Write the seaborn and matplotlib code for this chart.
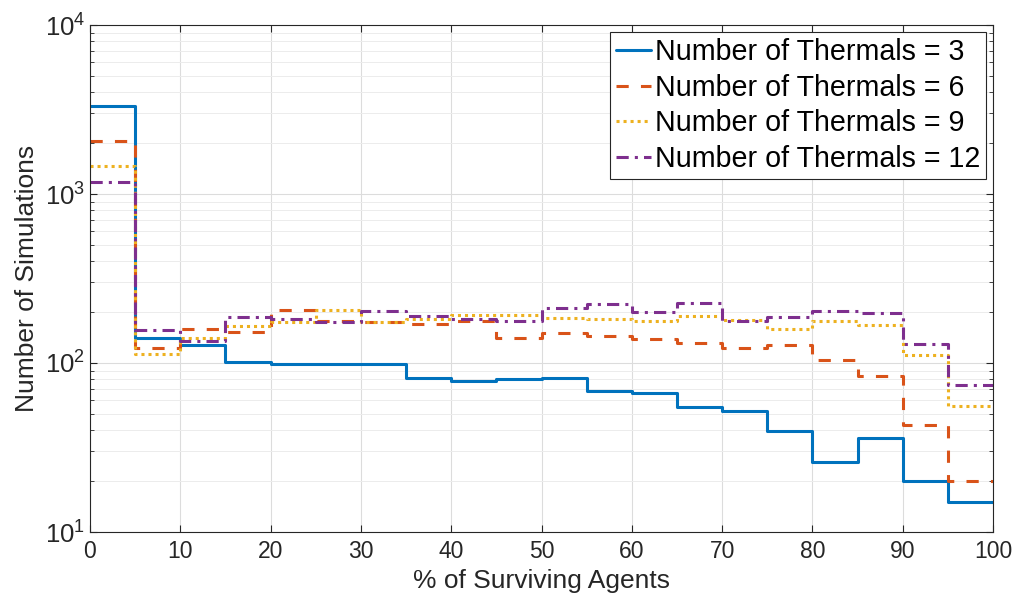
import numpy as np
import pandas as pd
import matplotlib
matplotlib.use("Agg")
import matplotlib.pyplot as plt
import seaborn as sns
from matplotlib.ticker import LogLocator, NullFormatter, MultipleLocator

# ---- data ----
bin_edges = list(range(0, 105, 5))  # % of surviving agents, 5% bins
labels = ["Number of Thermals = 3", "Number of Thermals = 6",
          "Number of Thermals = 9", "Number of Thermals = 12"]
counts_3 = [3300, 140, 127, 101, 98, 99, 99, 82, 78, 80, 82, 68, 66, 55, 52, 39.5, 26, 36, 20, 15]
counts_6 = [2050, 123, 159, 152, 207, 178, 176, 169, 178, 140, 151, 145, 138, 131, 123, 127, 104, 84, 43, 20]
counts_9 = [1470, 113, 140, 165, 175, 207, 175, 181, 193, 193, 185, 183, 177, 189, 180, 159, 178, 167, 112, 56]
counts_12 = [1180, 156, 135, 187, 183, 175, 203, 191, 183, 178, 211, 223, 200, 225, 178, 187, 203, 197, 130, 74]
series = [counts_3, counts_6, counts_9, counts_12]

colors = ["#0072BD", "#D95319", "#EDB120", "#7E2F8E"]
styles = ["-", (0, (4, 4)), (0, (1, 1.3)), (0, (4, 2, 1, 2))]

sns.set_style("ticks")
plt.rcParams['font.family'] = ['Liberation Sans', 'DejaVu Sans']
plt.rcParams['mathtext.fontset'] = 'custom'
plt.rcParams['mathtext.rm'] = 'Liberation Sans'

fig = plt.figure(figsize=(10.27, 6.04), dpi=100)
ax = fig.add_axes([90 / 1027, (604 - 532) / 604, (993 - 90) / 1027, (532 - 25) / 604])

edges = [float(e) for e in bin_edges]
centers = [(a + b) / 2 for a, b in zip(edges[:-1], edges[1:])]
for lab, cnt, c, ls in zip(labels, series, colors, styles):
    df = pd.DataFrame({"x": centers, "w": cnt})
    sns.histplot(data=df, x="x", weights="w", bins=edges, element="step", fill=False,
                 color=c, linestyle=ls, linewidth=2.2, label=lab, ax=ax)

ax.set_yscale("log")
ax.set_xlim(0, 100)
ax.set_ylim(10, 1e4)
ax.xaxis.set_major_locator(MultipleLocator(10))
ax.yaxis.set_major_locator(LogLocator(base=10, numticks=10))
ax.yaxis.set_minor_locator(LogLocator(base=10, subs=np.arange(2, 10), numticks=20))
ax.yaxis.set_minor_formatter(NullFormatter())

ax.grid(True, which="major", color="#dcdcdc", linewidth=0.8)
ax.grid(True, which="minor", axis="y", color="#ececec", linewidth=0.7)
ax.set_axisbelow(True)

for s in ax.spines.values():
    s.set_visible(True)
    s.set_color("#262626")
    s.set_linewidth(0.8)
ax.tick_params(which="both", direction="in", top=True, right=True, colors="#262626",
               labelsize=16.5, labelcolor="#262626")
ax.tick_params(axis="y", labelsize=18.5)
ax.tick_params(which="major", length=5)
ax.tick_params(which="minor", length=3)
ax.tick_params(axis="x", pad=6)

ax.set_xlabel("% of Surviving Agents", fontsize=19, color="#262626", labelpad=4)
ax.set_ylabel("Number of Simulations", fontsize=19, color="#262626", labelpad=4)

leg = ax.legend(loc="upper right", fontsize=20.6, frameon=True, fancybox=False,
                edgecolor="#262626", framealpha=1, handlelength=1.25, handletextpad=0.12,
                borderaxespad=0.25, labelspacing=0.27, borderpad=0.2)
leg.get_frame().set_linewidth(0.8)
for t in leg.get_texts():
    t.set_color("black")

fig.savefig("out.png", dpi=100)
